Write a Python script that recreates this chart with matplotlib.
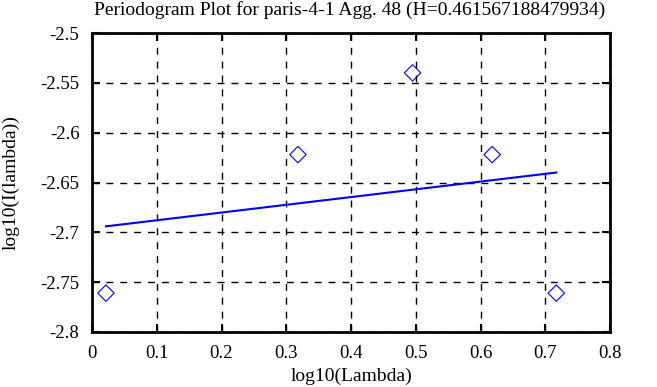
import matplotlib
matplotlib.use("Agg")
import matplotlib.pyplot as plt

# periodogram points (log10 lambda, log10 I)
log_lambda = [0.0215, 0.318, 0.495, 0.618, 0.717]
log_i = [-2.761, -2.622, -2.540, -2.622, -2.761]

# fitted line end points
fit_x = [0.0215, 0.717]
fit_y = [-2.694, -2.640]

xticks = [0, 0.1, 0.2, 0.3, 0.4, 0.5, 0.6, 0.7, 0.8]
xtick_labels = ["0", "0.1", "0.2", "0.3", "0.4", "0.5", "0.6", "0.7", "0.8"]
yticks = [-2.5, -2.55, -2.6, -2.65, -2.7, -2.75, -2.8]
ytick_labels = ["-2.5", "-2.55", "-2.6", "-2.65", "-2.7", "-2.75", "-2.8"]

plt.rcParams['font.family'] = ['Liberation Serif', 'DejaVu Serif']
plt.rcParams['font.size'] = 14

fig = plt.figure(figsize=(6.57, 3.87), dpi=100)
ax = fig.add_axes([92/657, 1 - 332/387, (610 - 92)/657, (332 - 33)/387])

ax.plot(fit_x, fit_y, color="blue", linewidth=1.5)
ax.scatter(log_lambda, log_i, marker="D", s=70, facecolors="none",
           edgecolors="blue", linewidths=0.8, zorder=3)

ax.set_xlim(0, 0.8)
ax.set_ylim(-2.8, -2.5)
ax.set_xticks(xticks)
ax.set_xticklabels(xtick_labels)
ax.set_yticks(yticks)
ax.set_yticklabels(ytick_labels)
ax.grid(True, color="black", linestyle=(0, (5, 5)), linewidth=1)
ax.tick_params(direction="in", top=True, right=True, length=6, width=1.5,
               pad=9, labelsize=13.5)
for s in ax.spines.values():
    s.set_linewidth(2)

fig.text(350/657, 1 - 10/387, "Periodogram Plot for paris-4-1 Agg. 48 (H=0.461567188479934)",
         ha="center", va="center")
fig.text(352/657, 1 - 376/387, "log10(Lambda)", ha="center", va="center")
fig.text(11/657, 1 - 183/387, "log10(I(lambda))", ha="center", va="center", rotation=90)

fig.savefig("out.png", dpi=100)
